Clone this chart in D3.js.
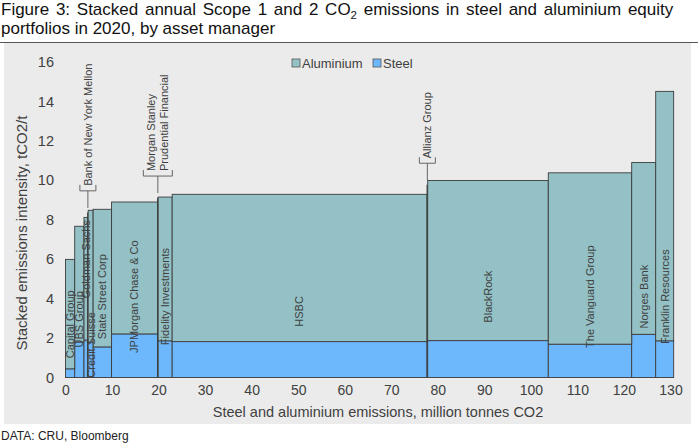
<!DOCTYPE html>
<html>
<head>
<meta charset="utf-8">
<script src="https://d3js.org/d3.v7.min.js"></script>
<style>
  body { margin: 0; background: #fff; }
  text { font-family: "Liberation Sans", Arial, sans-serif; }
</style>
</head>
<body>
<div id="chart"></div>
<script>
// asset managers, in drawing order (ascending intensity)
var managers = ["Capital Group", "UBS Group", "Goldman Sachs", "Bank of New York Mellon", "Credit Suisse",
  "State Street Corp", "JPMorgan Chase & Co", "Morgan Stanley", "Prudential Financial", "Fidelity Investments",
  "HSBC", "Allianz Group", "BlackRock", "The Vanguard Group", "Norges Bank", "Franklin Resources"];

// bar width: steel + aluminium emissions, million tonnes CO2
var emissions = [1.98, 1.99, 0.78, 0.12, 1.07, 3.96, 9.87, 0.07, 0.07, 3.01, 54.76, 0.15, 25.91, 17.92, 5.16, 3.86];

// stacked intensities, tCO2/t
var steel     = [0.44, 1.80, 1.90, 1.80, 1.80, 1.55, 2.21, 2.00, 2.00, 1.86, 1.82, 1.85, 1.87, 1.69, 2.19, 1.86];
var aluminium = [5.55, 5.87, 6.22, 6.55, 6.68, 6.98, 6.69, 7.05, 7.10, 7.29, 7.47, 7.90, 8.12, 8.69, 8.71, 12.65];

var yTicks = [0, 2, 4, 6, 8, 10, 12, 14, 16];
var xTicks = [0, 10, 20, 30, 40, 50, 60, 70, 80, 90, 100, 110, 120, 130];

// names shown with a leader line instead of inside the bar
var callouts = [["Bank of New York Mellon"], ["Morgan Stanley", "Prudential Financial"], ["Allianz Group"]];

var width = 698, height = 444;
var colAlu = "#93c1c5", colSteel = "#6db8fd", ink = "#404040";

var svg = d3.select("#chart").append("svg")
  .attr("width", width).attr("height", height);

// title
var title = svg.append("text").attr("x", 1).attr("y", 15)
  .attr("font-size", 17).attr("word-spacing", 2).attr("fill", "#111");
title.append("tspan").text("Figure 3: Stacked annual Scope 1 and 2 CO");
title.append("tspan").attr("font-size", 11.5).attr("dy", 4).text("2");
title.append("tspan").attr("dy", -4).text(" emissions in steel and aluminium equity");
svg.append("text").attr("x", 1).attr("y", 34).attr("font-size", 17).attr("fill", "#111")
  .text("portfolios in 2020, by asset manager");
svg.append("line").attr("x1", 0).attr("x2", width).attr("y1", 42.5).attr("y2", 42.5)
  .attr("stroke", "#555").attr("stroke-width", 1);

// grey chart panel
svg.append("rect").attr("x", 4).attr("y", 43).attr("width", 687).attr("height", 381).attr("fill", "#ebebeb");

svg.append("text").attr("x", 1).attr("y", 440).attr("font-size", 12).attr("fill", "#222")
  .text("DATA: CRU, Bloomberg");

var x = d3.scaleLinear().domain([0, 130]).range([65.5, 670.5]);
var y = d3.scaleLinear().domain([0, 16]).range([377.5, 62]);

// rows with cumulative x start
var ends = d3.cumsum(emissions);
var rows = managers.map(function(m, i) {
  return { name: m, x0: ends[i] - emissions[i], x1: ends[i], steel: steel[i], aluminium: aluminium[i] };
});
var stacked = d3.stack().keys(["steel", "aluminium"])(rows);
var colors = { steel: colSteel, aluminium: colAlu };

// axis baseline
svg.append("line").attr("x1", x(0)).attr("x2", x(ends[ends.length - 1]))
  .attr("y1", y(0)).attr("y2", y(0)).attr("stroke", "#bfbfbf");

svg.append("g").selectAll("g").data(stacked).join("g")
  .attr("fill", function(s) { return colors[s.key]; })
  .selectAll("rect").data(function(s) { return s; }).join("rect")
  .attr("x", function(d) { return x(d.data.x0); })
  .attr("width", function(d) { return x(d.data.x1) - x(d.data.x0); })
  .attr("y", function(d) { return y(d[1]); })
  .attr("height", function(d) { return y(d[0]) - y(d[1]); })
  .attr("stroke", "#3c3c3c").attr("stroke-width", 0.9);

// y axis
var yAxis = svg.append("g").attr("transform", "translate(54,0)")
  .call(d3.axisLeft(y).tickValues(yTicks).tickSize(0).tickPadding(0));
yAxis.select(".domain").remove();
yAxis.selectAll("text").attr("font-size", 14.5).attr("fill", ink)
  .attr("font-family", "Liberation Sans, Arial, sans-serif");

// x axis
var xAxis = svg.append("g").attr("transform", "translate(0," + y(0) + ")")
  .call(d3.axisBottom(x).tickValues(xTicks).tickSize(0).tickPadding(8));
xAxis.select(".domain").remove();
xAxis.selectAll("text").attr("font-size", 14).attr("fill", ink)
  .attr("font-family", "Liberation Sans, Arial, sans-serif");

svg.append("text").attr("x", 378).attr("y", 417).attr("text-anchor", "middle")
  .attr("font-size", 14.5).attr("fill", ink)
  .text("Steel and aluminium emissions, million tonnes CO2");
svg.append("text").attr("transform", "translate(27,233) rotate(-90)")
  .attr("text-anchor", "middle").attr("font-size", 15).attr("fill", ink)
  .text("Stacked emissions intensity, tCO2/t");

// legend
var legend = svg.append("g").attr("font-size", 13).attr("fill", ink);
[["Aluminium", colAlu, 292], ["Steel", colSteel, 373]].forEach(function(l) {
  legend.append("rect").attr("x", l[2]).attr("y", 59).attr("width", 8).attr("height", 8)
    .attr("fill", l[1]).attr("stroke", "#555").attr("stroke-width", 0.8);
  legend.append("text").attr("x", l[2] + 10).attr("y", 68).text(l[0]);
});

// labels inside the bars
var calloutNames = [].concat.apply([], callouts);
var labelY = { "Capital Group": 2.7, "UBS Group": 2.95, "Goldman Sachs": 6.0, "Credit Suisse": 1.65, "HSBC": 3.35 };
svg.append("g").selectAll("text")
  .data(rows.filter(function(r) { return calloutNames.indexOf(r.name) < 0; }))
  .join("text")
  .attr("transform", function(r) {
    var v = labelY[r.name] !== undefined ? labelY[r.name] : 4.1;
    return "translate(" + x((r.x0 + r.x1) / 2) + "," + y(v) + ") rotate(-90)";
  })
  .attr("text-anchor", "middle").attr("dy", "0.35em")
  .attr("font-size", 11).attr("fill", ink)
  .text(function(r) { return r.name; });

// callouts with bracket and leader line
callouts.forEach(function(names) {
  var rs = rows.filter(function(r) { return names.indexOf(r.name) >= 0; });
  var cx = x((rs[0].x0 + rs[rs.length - 1].x1) / 2);
  var top = y(d3.max(rs, function(r) { return r.steel + r.aluminium; }));
  var by = top - 22, half = 4 + names.length * 6.5 - 2.5;
  var g = svg.append("g").attr("stroke", "#666").attr("fill", "none").attr("stroke-width", 1);
  g.append("path").attr("d", "M" + (cx - half) + "," + (by - 6) + "V" + by + "H" + (cx + half) + "V" + (by - 6));
  g.append("line").attr("x1", cx).attr("x2", cx).attr("y1", by).attr("y2", top - 5);
  names.forEach(function(n, i) {
    var tx = cx + (i - (names.length - 1) / 2) * 12.5;
    svg.append("text").attr("transform", "translate(" + tx + "," + (by - 5) + ") rotate(-90)")
      .attr("dy", "0.35em").attr("font-size", 11).attr("fill", ink).text(n);
  });
});
</script>
</body>
</html>
